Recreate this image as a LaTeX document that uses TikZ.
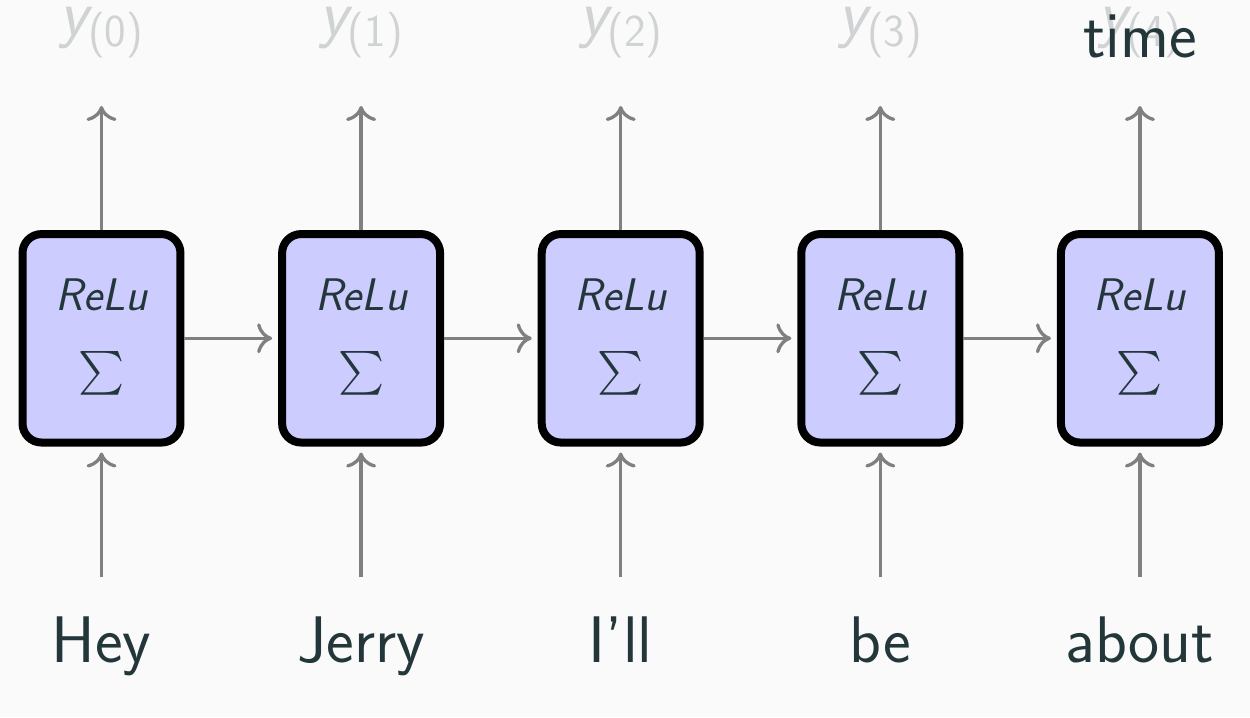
\documentclass[tikz,border=0pt]{standalone}
\usepackage{fix-cm}
\usepackage{exscale}
\usetikzlibrary{arrows.meta}
\definecolor{bg}{HTML}{FAFAFA}
\definecolor{fg}{HTML}{23373B}
\definecolor{faded}{HTML}{D0D3D4}
\definecolor{boxfill}{HTML}{CCCCFF}
\definecolor{arr}{HTML}{808080}
\newcommand{\ysub}[1]{{\itshape y}\raisebox{-6.5pt}{\fontsize{26}{30}\selectfont(#1)}}
\tikzset{
  cell/.style={draw=black, fill=boxfill, line width=0.16cm, rounded corners=0.38cm,
    minimum width=3.16cm, minimum height=4.17cm, inner sep=0pt},
  flow/.style={draw=arr, line width=0.066cm,
    -{Computer Modern Rightarrow[length=0.3cm,width=0.6cm]}},
  word/.style={anchor=base, inner sep=0pt, text=fg,
    font=\fontsize{37.5}{44}\selectfont\sffamily},
  ylab/.style={anchor=base, inner sep=0pt, text=faded,
    font=\fontsize{37.5}{44}\selectfont\sffamily},
  relu/.style={anchor=base, inner sep=0pt, text=fg,
    font=\fontsize{26}{30}\selectfont\sffamily\itshape},
  sigma/.style={anchor=center, inner sep=0pt, text=fg,
    font=\fontsize{24}{28}\selectfont},
}
\begin{document}
\begin{tikzpicture}[x=0.02cm,y=-0.02cm]
\fill[bg] (0,0) rectangle (1250,717);
\foreach \i/\w in {0/Hey,1/Jerry,2/I’ll,3/be,4/about}{
  \pgfmathsetmacro\xx{101.5+259.6*\i}
  \node[cell] (b\i) at (\xx,338.3) {};
  \node[relu] (r\i) at (\xx,310) {ReLu};
  \node[sigma] (s\i) at (\xx,373.5) {$\sum$};
  \node[word] (w\i) at (\xx,662.7) {\w};
  \node[ylab] (y\i) at (\xx,35.5) {\ysub{\i}};
  \coordinate (t\i) at (\xx,106);
  \coordinate (u\i) at (\xx,577);
  \draw[flow] (b\i.north) -- (t\i);
  \draw[flow, shorten >=0.12cm] (u\i) -- (b\i.south);
}
\foreach \i [evaluate=\i as \j using int(\i+1)] in {0,...,3}
  \draw[flow, shorten >=0.12cm] (b\i.east) -- (b\j.west);
\node[word] (time) at (1140,57.3) {time};
\end{tikzpicture}
\end{document}
